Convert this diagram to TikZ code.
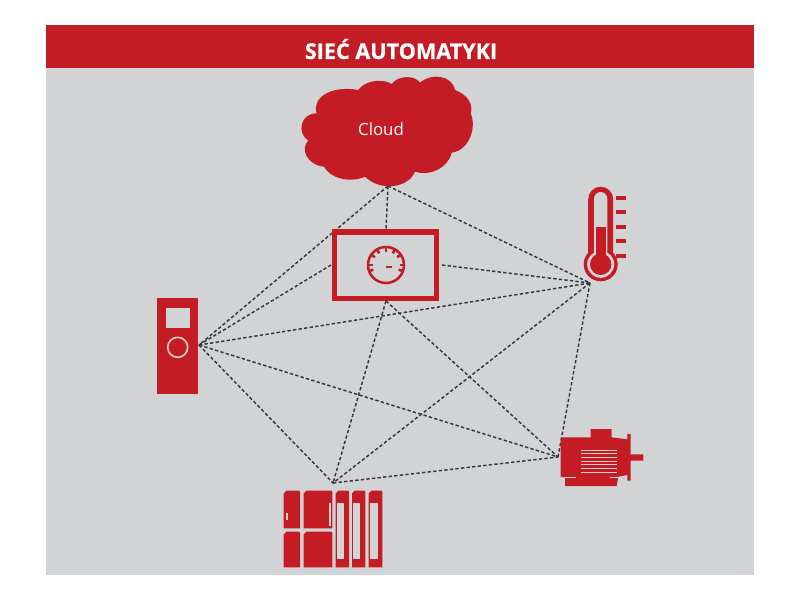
\documentclass[tikz,border=0pt]{standalone}
\usepackage{fontspec}
\setmainfont{Open Sans}
\newfontfamily\heavyfont{Open Sans}[BoldFeatures={FakeBold=0.8}]
\definecolor{panel}{HTML}{D1D3D4}
\definecolor{brand}{HTML}{C41C24}
\definecolor{pale}{HTML}{E9CFC8}
\definecolor{wire}{HTML}{333A3E}
\tikzset{
  link/.style={draw=wire,line width=1.1pt,dash pattern=on 2.5pt off 1.7pt},
  gauge/.style={draw=brand,line width=1.9pt}
}
\begin{document}
\begin{tikzpicture}[x=.75pt,y=-.75pt]
\useasboundingbox (0,0) rectangle (800,600);
\fill[panel] (46,25) rectangle (754,575);
\fill[brand] (46,25) rectangle (754,68);
\node[text=white,font=\fontsize{16.2pt}{18pt}\heavyfont\bfseries,inner sep=0pt] (title) at (401,49) {SIEĆ AUTOMATYKI};

% connection points
\coordinate (cloudhub) at (388,186);
\coordinate (thermohub) at (590,283);
\coordinate (drivehub) at (199,345);
\coordinate (motorhub) at (558,457);
\coordinate (plchub) at (333,483);
\coordinate (hmitop) at (386,230);
\coordinate (hmileft) at (331,265);
\coordinate (hmiright) at (442,265);
\coordinate (hmibottom) at (386,301);

% connectors
\draw[link] (cloudhub) -- (drivehub);
\draw[link] (cloudhub) -- (hmitop);
\draw[link] (cloudhub) -- (thermohub);
\draw[link] (drivehub) -- (hmileft);
\draw[link] (drivehub) -- (thermohub);
\draw[link] (drivehub) -- (motorhub);
\draw[link] (drivehub) -- (plchub);
\draw[link] (hmiright) -- (thermohub);
\draw[link] (hmibottom) -- (motorhub);
\draw[link] (hmibottom) -- (plchub);
\draw[link] (thermohub) -- (plchub);
\draw[link] (thermohub) -- (motorhub);
\draw[link] (plchub) -- (motorhub);

% cloud
\begin{scope}[shift={(280,70)},x=.25pt,y=-.25pt]
  \fill[brand] (110,130) .. controls (95,85) and (150,45) .. (235,60)
    .. controls (255,30) and (310,25) .. (335,42)
    .. controls (355,15) and (405,15) .. (420,38)
    .. controls (455,8) and (515,15) .. (525,60)
    .. controls (565,75) and (580,105) .. (572,130)
    .. controls (590,170) and (570,240) .. (515,248)
    .. controls (505,295) and (445,320) .. (405,305)
    .. controls (385,355) and (300,365) .. (255,320)
    .. controls (210,340) and (150,325) .. (132,290)
    .. controls (80,285) and (60,235) .. (85,212)
    .. controls (50,190) and (60,130) .. (110,130) -- cycle;
\end{scope}
\node[text=white,font=\fontsize{12.6pt}{15pt}\selectfont,inner sep=0pt] (cloudlabel) at (381,129.5) {Cloud};

% HMI panel
\draw[brand,line width=3.8pt] (334.5,232) rectangle (436.5,298.5);
\draw[gauge] (386,265) circle (18);
\foreach \a in {20,0,325,300,270,240,215,180,160}
  \draw[gauge] (386,265) ++(\a:13.5) -- ++(\a:4.5);
\draw[gauge] (386,267) -- (392,267);

% thermometer
\fill[brand] (600.7,264.3) circle (17);
\fill[brand,rounded corners=9.4pt] (588.2,186.7) rectangle (613.2,270);
\fill[panel] (600.7,264.3) circle (13.5);
\fill[panel,rounded corners=5pt] (594,192) rectangle (607.3,270);
\fill[brand] (600.7,264.3) circle (10.7);
\fill[brand] (595.7,226.7) rectangle (605.7,265);
\foreach \ty in {197.7,212.3,226.7,241,255.7}
  \fill[brand] (615.7,\ty-2) rectangle (625.7,\ty+2);

% drive
\fill[brand] (156.5,298.3) rectangle (198.3,394.3);
\fill[panel] (165.7,308.3) rectangle (190,327.7);
\draw[pale,line width=1.2pt] (177.7,347.3) circle (10);

% motor
\begin{scope}[shift={(550,420)},x=.25pt,y=-.25pt]
  \fill[brand] (38,52) -- (122,52) -- (122,27) -- (185,27) -- (185,52) -- (232,58) -- (232,42) -- (242,42) -- (242,103) -- (280,103) -- (280,122) -- (242,122) -- (242,182) -- (232,182) -- (232,165) -- (205,170) -- (200,198) -- (45,198) -- (45,172) -- (32,170) -- (32,58) -- cycle;
  \foreach \fy in {90,101,112,123,134,145,156}
    \fill[pale] (92,\fy-1.4) rectangle (200,\fy+1.4);
  \fill[pale] (45,170) rectangle (78,174);
  \fill[pale] (180,170) rectangle (205,174);
\end{scope}

% controller
\begin{scope}[shift={(270,470)},x=.25pt,y=-.25pt]
  \foreach \xa/\xb/\ya/\yb in {41/90/62/175,41/90/185/292,101/187/62/175,101/187/185/292,197/237/62/292,246/286/62/292,296/337/62/292}
    \fill[brand] (\xa,\ya+8) -- (\xa+8,\ya) -- (\xb-3,\ya) -- (\xb,\ya+3) -- (\xb,\yb) -- (\xa,\yb) -- cycle;
  \fill[panel] (200,98) rectangle (222,268);
  \fill[panel] (248,98) rectangle (271,268);
  \fill[panel] (300,98) rectangle (323,268);
  \fill[pale] (49,128) rectangle (54,150);
  \fill[pale] (176,98) rectangle (182,168);
\end{scope}
\end{tikzpicture}
\end{document}
